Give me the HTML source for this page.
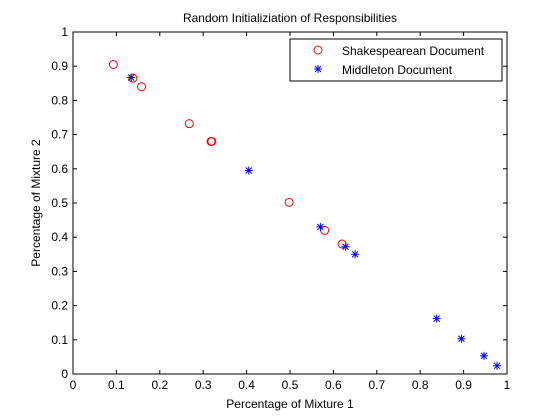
<!DOCTYPE html>
<html><head><meta charset="utf-8"><style>
html,body{margin:0;padding:0;background:#fff;}
svg{display:block;font-family:"Liberation Sans",sans-serif;}
</style></head><body>
<svg id="chart" width="560" height="420">
<rect x="0" y="0" width="560" height="420" fill="#fff"/>
<rect x="73" y="32" width="434" height="342" fill="#fff" stroke="#000" stroke-width="1"/>
<text x="290" y="22" font-size="12" text-anchor="middle">Random Initializiation of Responsibilities</text>
<text x="290" y="408" font-size="12" text-anchor="middle">Percentage of Mixture 1</text>
<text x="0" y="0" font-size="12" text-anchor="middle" transform="translate(40,203) rotate(-90)">Percentage of Mixture 2</text>
<g id="ticks"></g>
<g id="marks"></g>
<g>
<rect x="290" y="39" width="212" height="42" fill="#fff" stroke="#000"/>
<circle cx="318" cy="50" r="4" fill="none" stroke="#f00"/>
<text x="342" y="55" font-size="12">Shakespearean Document</text>
<g stroke="#00f" stroke-width="1">
<line x1="314" y1="69" x2="322" y2="69"/><line x1="318" y1="65" x2="318" y2="73"/><line x1="315" y1="66" x2="321" y2="72"/><line x1="321" y1="66" x2="315" y2="72"/></g>
<text x="342" y="74" font-size="12">Middleton Document</text>
</g>
</svg>
<script>
const tickValues=[0,0.1,0.2,0.3,0.4,0.5,0.6,0.7,0.8,0.9,1];
const tickLabels=["0","0.1","0.2","0.3","0.4","0.5","0.6","0.7","0.8","0.9","1"];
const shakeX=[0.093,0.138,0.158,0.268,0.318,0.32,0.498,0.58,0.62];
const shakeY=[0.905,0.865,0.84,0.732,0.68,0.68,0.502,0.42,0.38];
const midX=[0.134,0.405,0.57,0.628,0.65,0.838,0.895,0.947,0.977];
const midY=[0.867,0.595,0.43,0.372,0.35,0.162,0.103,0.053,0.024];
const NS="http://www.w3.org/2000/svg";
const X0=73,X1=507,Y0=374,Y1=32;
function sx(v){return X0+v*(X1-X0);}
function sy(v){return Y0-v*(Y0-Y1);}
function mk(tag,attrs,parent){const e=document.createElementNS(NS,tag);for(const k in attrs)e.setAttribute(k,attrs[k]);parent.appendChild(e);return e;}
const tg=document.getElementById('ticks');
tickValues.forEach((v,i)=>{
  const x=sx(v),y=sy(v);
  let t;
  t=mk('line',{x1:x,y1:Y0,x2:x,y2:Y0-4,stroke:'#000'},tg);
  
  
  t=mk('line',{x1:x,y1:Y1,x2:x,y2:Y1+4,stroke:'#000'},tg);
  
  
  t=mk('line',{x1:X0,y1:y,x2:X0+4,y2:y,stroke:'#000'},tg);
  
  
  t=mk('line',{x1:X1,y1:y,x2:X1-4,y2:y,stroke:'#000'},tg);
  
  
  let l=mk('text',{x:x,y:Y0+15,'font-size':12,'text-anchor':'middle'},tg);
  l.textContent=tickLabels[i];
  
  
  l=mk('text',{x:X0-5,y:y+4,'font-size':12,'text-anchor':'end'},tg);
  l.textContent=tickLabels[i];
  
  
});
const mg=document.getElementById('marks');
shakeX.forEach((v,i)=>{
  const c=mk('circle',{cx:sx(v),cy:sy(shakeY[i]),r:4,fill:'none',stroke:'#f00'},mg);
  
  
});
midX.forEach((v,i)=>{
  const x=sx(v),y=sy(midY[i]);
  const g=mk('g',{stroke:'#00f','stroke-width':1},mg);
  
  
  mk('line',{x1:x-4,y1:y,x2:x+4,y2:y},g);
  mk('line',{x1:x,y1:y-4,x2:x,y2:y+4},g);
  mk('line',{x1:x-3,y1:y-3,x2:x+3,y2:y+3},g);
  mk('line',{x1:x+3,y1:y-3,x2:x-3,y2:y+3},g);
});
</script>
</body></html>
